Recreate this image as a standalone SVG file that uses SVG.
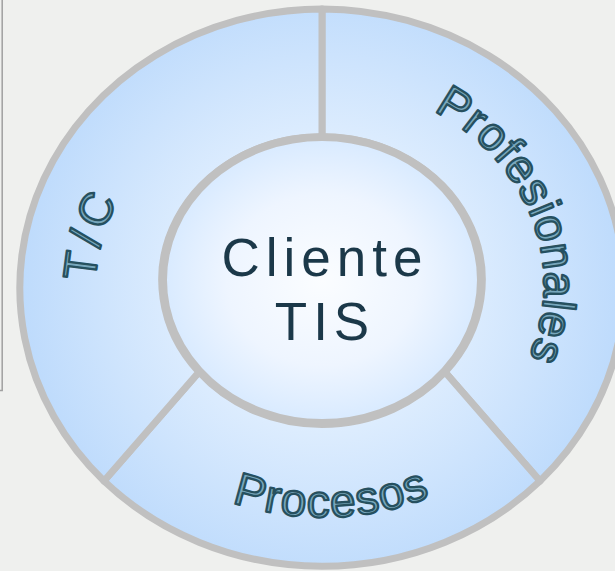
<svg xmlns="http://www.w3.org/2000/svg" width="615" height="571" viewBox="0 0 615 571">
  <defs>
    <radialGradient id="ringGrad" gradientUnits="userSpaceOnUse" cx="322" cy="284" r="300">
      <stop offset="0" stop-color="#ffffff"/>
      <stop offset="0.5" stop-color="#dcecfe"/>
      <stop offset="1" stop-color="#bedbfc"/>
    </radialGradient>
    <radialGradient id="hubGrad" cx="0.5" cy="0.5" r="0.5">
      <stop offset="0" stop-color="#fbfdff"/>
      <stop offset="0.6" stop-color="#eef5ff"/>
      <stop offset="1" stop-color="#d8eaff"/>
    </radialGradient>
    <path id="pathTC" d="M120,380 A222,200 0 0,1 191,124"/>
    <path id="pathProf" d="M366.3,88 A222,200 0 0,1 488.3,416.5"/>
    <path id="pathProc" d="M146,455 A262,236 0 0,0 514,443"/>
  </defs>
  <style>
    .seg { fill: url(#ringGrad); stroke: #c0c0c0; stroke-width: 7; stroke-linejoin: round; }
    .hub { fill: url(#hubGrad); stroke: #c0c0c0; stroke-width: 8; }
    .art { font-family: "Liberation Sans", Arial, sans-serif; font-size: 46px; fill: #78a8bd; stroke: #26505f; stroke-width: 2.3; stroke-linejoin: round; }
    .hubtext { font-family: "Liberation Sans", Arial, sans-serif; font-size: 53px; fill: #1b3849; letter-spacing: 6px; text-anchor: middle; }
  </style>
  <rect x="0" y="0" width="615" height="571" fill="#eff0ee"/>
  <path d="M0,390.5 H2.2 V0" fill="none" stroke="#a0a0a0" stroke-width="1.5"/>

  <g id="seg-profesionales">
    <path class="seg" d="M322,9 A303,279 0 0,1 540,481 L445,372 A159,143 0 0,0 322,137 Z"/>
    <text class="art" letter-spacing="1"><textPath href="#pathProf" startOffset="50%" text-anchor="middle">Profesionales</textPath></text>
  </g>
  <g id="seg-procesos">
    <path class="seg" d="M540,481 A303,279 0 0,1 104,481 L199,372 A159,143 0 0,0 445,372 Z"/>
    <text class="art" letter-spacing="1.5"><textPath href="#pathProc" startOffset="50%" text-anchor="middle">Procesos</textPath></text>
  </g>
  <g id="seg-tic">
    <path class="seg" d="M104,481 A303,279 0 0,1 322,9 L322,137 A159,143 0 0,0 199,372 Z"/>
    <text class="art" letter-spacing="5"><textPath href="#pathTC" startOffset="50%" text-anchor="middle">T/C</textPath></text>
  </g>
  <g id="hub">
    <ellipse class="hub" cx="322" cy="280" rx="159" ry="143"/>
    <text class="hubtext" x="325" y="276">Cliente</text>
    <text class="hubtext" x="325" y="340">TIS</text>
  </g>
</svg>
